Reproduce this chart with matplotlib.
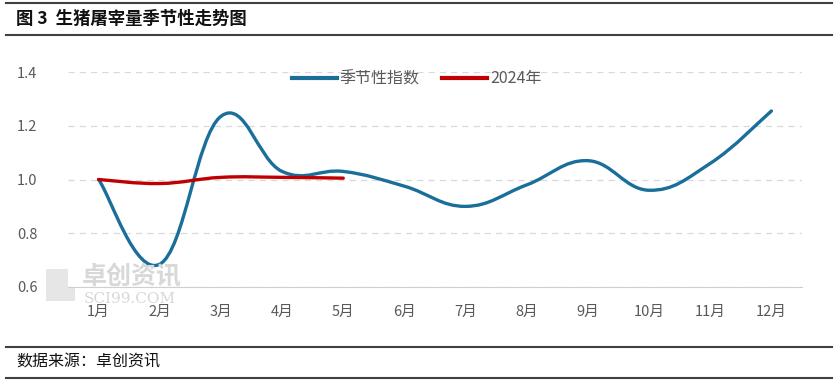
import numpy as np
import matplotlib.pyplot as plt
from matplotlib.path import Path
from matplotlib.patches import PathPatch, Rectangle
from matplotlib.lines import Line2D

plt.rcParams['font.family'] = ['Noto Sans CJK SC', 'DejaVu Sans']

months = ['1月', '2月', '3月', '4月', '5月', '6月', '7月', '8月', '9月', '10月', '11月', '12月']
seasonal = [1.00, 0.685, 1.235, 1.03, 1.03, 0.975, 0.90, 0.98, 1.07, 0.96, 1.06, 1.255]
y2024 = [1.00, 0.985, 1.008, 1.008, 1.005]

BLUE = '#1a6e9a'
RED = '#c00000'


def smooth_path(xs, ys, t=0.5):
    # Excel-like smoothed line: cubic Bezier through each point
    xs = np.asarray(xs, float)
    ys = np.asarray(ys, float)
    n = len(xs)
    verts = [(xs[0], ys[0])]
    codes = [Path.MOVETO]
    for i in range(n - 1):
        p0 = (xs[i - 1], ys[i - 1]) if i > 0 else (xs[i], ys[i])
        p1 = (xs[i], ys[i])
        p2 = (xs[i + 1], ys[i + 1])
        p3 = (xs[i + 2], ys[i + 2]) if i + 2 < n else p2
        c1 = (p1[0] + (p2[0] - p0[0]) * t / 3, p1[1] + (p2[1] - p0[1]) * t / 3)
        c2 = (p2[0] - (p3[0] - p1[0]) * t / 3, p2[1] - (p3[1] - p1[1]) * t / 3)
        verts += [c1, c2, p2]
        codes += [Path.CURVE4] * 3
    return Path(verts, codes)


fig = plt.figure(figsize=(8.38, 3.87), dpi=100)
ax = fig.add_axes([68 / 838, 1 - 287 / 387, (802 - 68) / 838, (287 - 72) / 387])

x = np.arange(len(months))
ax.add_patch(PathPatch(smooth_path(x, seasonal, 0.6), fill=False, edgecolor=BLUE,
                       lw=2.4, capstyle='round', zorder=3))
ax.add_patch(PathPatch(smooth_path(x[:len(y2024)], y2024, 0.6), fill=False, edgecolor=RED,
                       lw=2.4, capstyle='round', zorder=4))

ax.set_xlim(-0.5, len(months) - 0.5)
ax.set_ylim(0.6, 1.4)
ax.set_yticks([0.6, 0.8, 1.0, 1.2, 1.4])
ax.set_yticklabels(['0.6', '0.8', '1.0', '1.2', '1.4'])
ax.set_xticks(x)
ax.set_xticklabels(months)
ax.tick_params(axis='both', length=0, colors='#595959', labelsize=10.5)
ax.tick_params(axis='y', pad=22)
ax.tick_params(axis='x', pad=13)
for s in ['top', 'right', 'left']:
    ax.spines[s].set_visible(False)
ax.spines['bottom'].set_color('#d0d0d0')
ax.grid(axis='y', color='#d9d9d9', ls=(0, (5, 4)), lw=0.9)
ax.set_axisbelow(True)

handles = [Line2D([], [], color=BLUE, lw=3), Line2D([], [], color=RED, lw=3)]
ax.legend(handles, ['季节性指数', '2024年'], loc='upper center', bbox_to_anchor=(0.475, 1.075),
          ncol=2, frameon=False, fontsize=11.5, handlelength=2.8, handletextpad=0.2,
          columnspacing=1.4, labelcolor='#595959')

# watermark
fig.add_artist(Rectangle((46 / 838, 1 - 301 / 387), 29 / 838, 32 / 387, facecolor='#e6e6e6',
                         edgecolor='none', zorder=0))
fig.text(82 / 838, 1 - 277 / 387, '卓创资讯', fontsize=18, color='#d8d8d8',
         ha='left', va='center', fontweight='bold', zorder=0)
fig.text(84 / 838, 1 - 299 / 387, 'SCI99.COM', fontsize=11, color='#d8d8d8',
         ha='left', va='center', family='DejaVu Serif', zorder=0)

# header / footer
for yy in [3, 35, 347, 378]:
    fig.add_artist(Line2D([6 / 838, 832 / 838], [1 - yy / 387, 1 - yy / 387], color='#404040', lw=1.5))
fig.text(16 / 838, 1 - 19 / 387, '图 3  生猪屠宰量季节性走势图', fontsize=12.5, fontweight='bold',
         color='#111111', ha='left', va='center')
fig.text(16 / 838, 1 - 362 / 387, '数据来源：卓创资讯', fontsize=11.5, color='#111111',
         ha='left', va='center')

fig.savefig('out.png', dpi=100)
